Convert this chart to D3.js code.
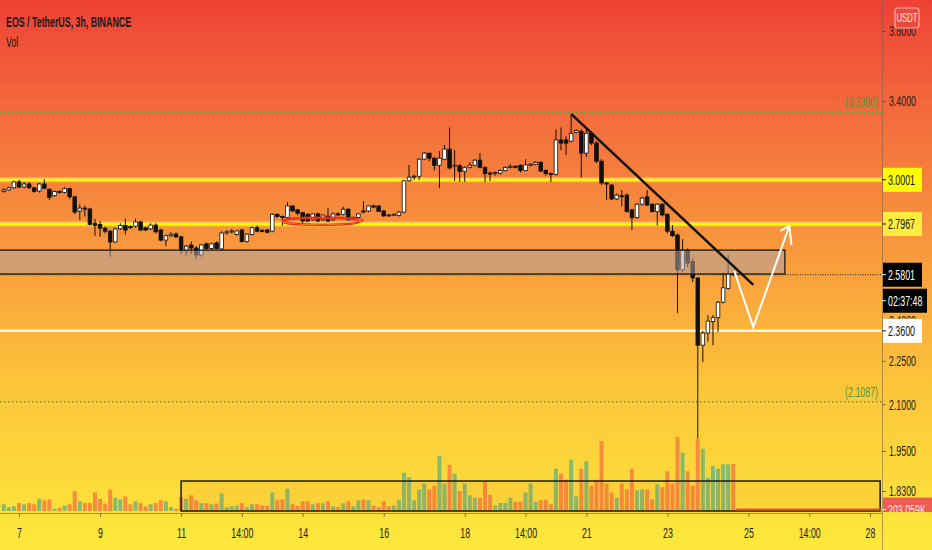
<!DOCTYPE html>
<html>
<head>
<meta charset="UTF-8">
<title>EOS / TetherUS, 3h, BINANCE</title>
<script src="https://cdn.jsdelivr.net/npm/d3@7"></script>
<style>
  body { margin: 0; overflow: hidden; }
  svg text { font-family: 'Liberation Sans', Arial, sans-serif; }
</style>
</head>
<body>
<svg id="chart" width="932" height="550"></svg>
<script>
// 3h candles, first one on the 6th at 15:00, as [open, high, low, close]
var startDay = 6.625;
var barStep = 0.125;
var candles = [
  [2.945,2.96,2.94,2.952],[2.952,2.968,2.948,2.962],[2.962,2.995,2.958,2.99],[2.99,3.0,2.96,2.966],
  [2.966,2.99,2.96,2.98],[2.98,2.99,2.958,2.962],[2.962,2.966,2.94,2.945],[2.947,2.985,2.94,2.98],
  [2.98,3.003,2.955,2.96],[2.955,2.96,2.905,2.918],[2.925,2.95,2.92,2.945],[2.945,2.952,2.935,2.94],
  [2.94,2.965,2.935,2.958],[2.958,2.962,2.91,2.92],[2.92,2.925,2.84,2.85],[2.855,2.886,2.815,2.868],
  [2.868,2.88,2.83,2.864],[2.864,2.87,2.79,2.795],[2.80,2.82,2.745,2.79],[2.795,2.81,2.74,2.778],
  [2.778,2.785,2.755,2.765],[2.765,2.77,2.654,2.718],[2.718,2.78,2.715,2.775],[2.775,2.80,2.77,2.79],
  [2.79,2.82,2.75,2.77],[2.785,2.79,2.775,2.78],[2.787,2.82,2.78,2.806],[2.806,2.81,2.765,2.77],
  [2.78,2.785,2.765,2.77],[2.775,2.80,2.77,2.792],[2.792,2.80,2.755,2.762],[2.77,2.775,2.72,2.726],
  [2.726,2.75,2.70,2.745],[2.745,2.76,2.74,2.752],[2.752,2.76,2.735,2.74],[2.74,2.745,2.665,2.68],
  [2.68,2.705,2.66,2.70],[2.705,2.72,2.666,2.692],[2.692,2.70,2.645,2.662],[2.662,2.71,2.655,2.705],
  [2.71,2.715,2.68,2.69],[2.69,2.715,2.685,2.71],[2.714,2.72,2.685,2.69],[2.688,2.765,2.68,2.757],
  [2.757,2.77,2.75,2.762],[2.762,2.775,2.755,2.766],[2.75,2.77,2.745,2.766],[2.77,2.775,2.715,2.72],
  [2.72,2.755,2.715,2.752],[2.75,2.785,2.745,2.78],[2.78,2.79,2.76,2.765],[2.768,2.775,2.76,2.765],
  [2.77,2.775,2.755,2.76],[2.765,2.845,2.76,2.84],[2.84,2.845,2.825,2.83],[2.83,2.835,2.79,2.826],
  [2.826,2.895,2.82,2.878],[2.878,2.88,2.85,2.855],[2.86,2.865,2.835,2.845],[2.848,2.85,2.80,2.81],
  [2.84,2.845,2.805,2.81],[2.815,2.845,2.81,2.842],[2.842,2.848,2.805,2.81],[2.815,2.84,2.81,2.837],
  [2.832,2.868,2.805,2.81],[2.815,2.848,2.81,2.842],[2.842,2.85,2.833,2.837],[2.84,2.875,2.835,2.863],
  [2.863,2.868,2.81,2.815],[2.82,2.83,2.815,2.826],[2.826,2.845,2.82,2.842],[2.855,2.9,2.845,2.85],
  [2.855,2.88,2.85,2.878],[2.878,2.885,2.868,2.873],[2.878,2.88,2.85,2.853],[2.855,2.86,2.828,2.833],
  [2.837,2.84,2.83,2.835],[2.837,2.845,2.832,2.84],[2.835,2.855,2.83,2.85],[2.85,3.0,2.845,2.995],
  [2.995,3.071,2.99,3.013],[3.013,3.025,3.0,3.017],[3.017,3.105,3.0,3.10],[3.10,3.135,3.095,3.13],
  [3.13,3.13,3.09,3.105],[3.105,3.11,3.045,3.07],[3.07,3.14,2.96,3.105],[3.10,3.17,3.095,3.15],
  [3.15,3.26,3.05,3.057],[3.068,3.145,2.995,3.071],[3.068,3.075,2.99,3.04],[3.04,3.065,2.99,3.06],
  [3.06,3.085,3.055,3.07],[3.07,3.10,3.065,3.095],[3.095,3.13,3.055,3.06],[3.06,3.065,2.99,3.03],
  [3.032,3.04,2.995,3.03],[3.03,3.04,3.02,3.035],[3.032,3.05,3.025,3.045],[3.045,3.065,3.04,3.06],
  [3.06,3.075,3.055,3.065],[3.065,3.07,3.055,3.06],[3.07,3.075,3.035,3.045],[3.045,3.10,3.04,3.072],
  [3.072,3.08,3.065,3.075],[3.075,3.09,3.07,3.085],[3.085,3.09,3.038,3.042],[3.045,3.05,3.02,3.03],
  [3.03,3.035,2.99,3.026],[3.026,3.25,3.02,3.196],[3.196,3.26,3.145,3.18],[3.196,3.215,3.12,3.18],
  [3.19,3.33,3.185,3.23],[3.235,3.25,3.23,3.245],[3.24,3.25,3.01,3.13],[3.13,3.25,3.11,3.23],
  [3.23,3.24,3.17,3.18],[3.18,3.19,3.08,3.09],[3.09,3.10,2.975,2.985],[2.985,2.99,2.905,2.98],
  [2.975,2.98,2.905,2.91],[2.91,2.935,2.905,2.928],[2.925,2.952,2.876,2.922],[2.928,2.935,2.848,2.852],
  [2.86,2.865,2.77,2.825],[2.825,2.89,2.82,2.886],[2.886,2.92,2.88,2.914],[2.92,2.952,2.878,2.882],
  [2.886,2.89,2.848,2.852],[2.852,2.89,2.79,2.886],[2.886,2.89,2.83,2.837],[2.84,2.845,2.755,2.765],
  [2.765,2.792,2.74,2.745],[2.748,2.755,2.428,2.60],[2.60,2.73,2.59,2.683],[2.683,2.69,2.61,2.628],
  [2.635,2.65,2.55,2.567],[2.567,2.57,1.99,2.307],[2.307,2.36,2.246,2.352],[2.352,2.42,2.32,2.397],
  [2.395,2.42,2.307,2.41],[2.41,2.475,2.355,2.47],[2.47,2.59,2.465,2.527],[2.525,2.662,2.52,2.585],
  [2.585,2.59,2.575,2.5801]
];

// volume per candle, thousands
var volumes = [
  29,17,20,34,29,34,29,53,46,50, 10,14,23,29,85,42,34,34,80,52,
  32,92,57,49,63,29,42,34,20,29, 34,46,42,17,10,60,53,67,46,34,
  34,29,32,75,17,20,23,34,17,29, 29,24,23,80,46,50,96,29,23,42,
  42,29,34,34,42,20,17,34,42,20, 46,50,46,23,17,42,20,24,46,165,
  146,46,93,118,93,108,237,118,199,161, 86,118,67,57,57,129,69,24,34,34,
  57,40,40,80,118,40,46,49,29,182, 161,135,221,63,182,215,109,135,301,118,
  80,57,118,93,182,89,93,92,50,115, 103,171,118,318,251,171,109,311,268,143,
  194,182,201,201,203
];

var xTicks = [7, 9, 11, 12.5, 14, 16, 18, 19.5, 21, 23, 25, 26.5, 28];
var xLabels = ['7', '9', '11', '14:00', '14', '16', '18', '14:00', '21', '23', '25', '14:00', '28'];
var yTicks = [3.8, 3.4, 2.4, 2.25, 2.1, 1.95, 1.83];

var yellowLevels = [3.0001, 2.7967];
var whiteLevel = 2.36;
var fibLevels = [3.339, 2.1087];
var lastPrice = 2.5801;
var countdown = '02:37:48';
var lastVolume = '203.059K';
var zone = {from: 6.0, to: 25.9, top: 2.683, bottom: 2.583};
var volBox = {from: 11, to: 28.25, top: 129};
var trend = [[20.63, 3.33], [25.12, 2.539]];
var projection = [[24.65, 2.596], [25.12, 2.374], [26.01, 2.788]];
var arrowWings = [[25.79, 2.766], [26.06, 2.705]];

var W = 932, H = 550, axisX = 882, timeY = 513;
var svg = d3.select('#chart');

var x = d3.scaleLinear().domain([7, 28]).range([19, 870]);
var y = d3.scaleLog().domain([3.4, 1.83]).range([101, 491]);
var vy = d3.scaleLinear().domain([0, 340]).range([511, 432]);
function t(i) { return startDay + i * barStep; }

// background gradient
var defs = svg.append('defs');
var grad = defs.append('linearGradient').attr('id', 'bg').attr('x1', 0).attr('y1', 0).attr('x2', 0).attr('y2', 1);
[[0, '#ee4135'], [0.2, '#f36a3c'], [0.45, '#f8983d'], [0.7, '#fcc53a'], [1, '#fde93b']].forEach(function (s) {
  grad.append('stop').attr('offset', s[0]).attr('stop-color', s[1]);
});
defs.append('clipPath').attr('id', 'plot').append('rect').attr('x', 0).attr('y', 0).attr('width', axisX).attr('height', timeY);
defs.append('clipPath').attr('id', 'scale').append('rect').attr('x', axisX).attr('y', 0).attr('width', W - axisX).attr('height', timeY - 1);
svg.append('rect').attr('width', W).attr('height', H).attr('fill', 'url(#bg)');

var plot = svg.append('g').attr('clip-path', 'url(#plot)');

// horizontal levels
plot.selectAll('line.fib').data(fibLevels).join('line')
  .attr('x1', 0).attr('x2', axisX).attr('y1', d => y(d)).attr('y2', d => y(d))
  .attr('stroke', '#5f9e3a').attr('stroke-width', 1.5).attr('stroke-dasharray', '1.5,2.5');
plot.selectAll('line.yglow').data(yellowLevels).join('line')
  .attr('x1', 0).attr('x2', axisX).attr('y1', d => y(d)).attr('y2', d => y(d))
  .attr('stroke', '#fff06a').attr('stroke-opacity', 0.55).attr('stroke-width', 5);
plot.selectAll('line.ycore').data(yellowLevels).join('line')
  .attr('x1', 0).attr('x2', axisX).attr('y1', d => y(d)).attr('y2', d => y(d))
  .attr('stroke', '#ffff00').attr('stroke-width', 2);
plot.append('line').attr('x1', 0).attr('x2', axisX).attr('y1', y(whiteLevel)).attr('y2', y(whiteLevel))
  .attr('stroke', '#fff8e8').attr('stroke-width', 2.5);
plot.append('line').attr('x1', 0).attr('x2', axisX).attr('y1', y(lastPrice)).attr('y2', y(lastPrice))
  .attr('stroke', '#222').attr('stroke-width', 1).attr('stroke-dasharray', '1,1.5');

// volume
plot.selectAll('rect.vol').data(volumes).join('rect')
  .attr('x', (d, i) => x(t(i)) - 2).attr('width', 4)
  .attr('y', d => vy(d)).attr('height', d => vy(0) - vy(d))
  .attr('fill', (d, i) => candles[i][3] >= candles[i][0] ? '#79b873' : '#f5843f')
  .attr('fill-opacity', 0.9);
plot.append('rect').attr('x', x(volBox.from)).attr('y', vy(volBox.top))
  .attr('width', x(volBox.to) - x(volBox.from)).attr('height', vy(0) - vy(volBox.top))
  .attr('fill', 'rgba(240,110,40,0.10)').attr('stroke', '#1a1a1a').attr('stroke-width', 1.5);
plot.append('line').attr('x1', x(t(candles.length - 1)) + 3).attr('x2', axisX)
  .attr('y1', vy(6)).attr('y2', vy(6)).attr('stroke', '#e0552e').attr('stroke-width', 2);

// candles
var cg = plot.append('g');
cg.selectAll('line').data(candles).join('line')
  .attr('x1', (d, i) => x(t(i))).attr('x2', (d, i) => x(t(i)))
  .attr('y1', d => y(d[1])).attr('y2', d => y(d[2]))
  .attr('stroke', '#111').attr('stroke-width', 1);
cg.selectAll('rect').data(candles).join('rect')
  .attr('x', (d, i) => x(t(i)) - 1.8).attr('width', 3.6)
  .attr('y', d => y(Math.max(d[0], d[3])))
  .attr('height', d => Math.max(1, Math.abs(y(d[0]) - y(d[3]))))
  .attr('fill', d => d[3] >= d[0] ? '#ffffff' : '#111111')
  .attr('stroke', '#111').attr('stroke-width', 0.8);

// support zone
plot.append('rect').attr('x', x(zone.from)).attr('y', y(zone.top))
  .attr('width', x(zone.to) - x(zone.from)).attr('height', y(zone.bottom) - y(zone.top))
  .attr('fill', 'rgba(176,160,158,0.55)').attr('stroke', '#1a1a1a').attr('stroke-width', 1.3);

// red marking under the range
[[14.5, 2.812, 1.0], [14.45, 2.806, 0.95]].forEach(function (e) {
  plot.append('ellipse').attr('cx', x(e[0])).attr('cy', y(e[1]))
    .attr('rx', x(e[0] + e[2]) - x(e[0])).attr('ry', 3.5)
    .attr('fill', 'none').attr('stroke', '#e8321e').attr('stroke-width', 1.2);
});

// trend line and projection
var line = d3.line().x(d => x(d[0])).y(d => y(d[1]));
plot.append('path').attr('d', line(trend)).attr('stroke', '#111').attr('stroke-width', 2.5).attr('fill', 'none');
plot.append('path').attr('d', line(projection)).attr('stroke', '#fff').attr('stroke-width', 2).attr('fill', 'none');
var tip = projection[projection.length - 1];
arrowWings.forEach(function (w) {
  plot.append('path').attr('d', line([w, tip])).attr('stroke', '#fff').attr('stroke-width', 2).attr('fill', 'none');
});

// fib level labels
plot.selectAll('text.fib').data(fibLevels).join('text')
  .attr('x', 878).attr('y', d => y(d) - 5).attr('text-anchor', 'end')
  .attr('font-size', 15).attr('fill', '#4f9a3a').text(d => '(' + d.toFixed(4) + ')');

// axes
var xAxis = d3.axisBottom(x).tickValues(xTicks).tickFormat((d, i) => xLabels[i]).tickSize(4).tickPadding(10);
var gx = svg.append('g').attr('transform', 'translate(0,' + timeY + ')').call(xAxis);
gx.select('.domain').attr('d', 'M0,0.5H' + axisX).attr('stroke', 'rgba(110,90,70,0.6)');
gx.selectAll('.tick line').attr('stroke', 'rgba(90,70,60,0.7)');
gx.selectAll('text').attr('font-size', 15).attr('fill', '#1e1e1e').attr('font-family', null);

var yAxis = d3.axisRight(y).tickValues(yTicks).tickFormat(d3.format('.4f')).tickSize(4).tickPadding(3);
var gy = svg.append('g').attr('transform', 'translate(' + axisX + ',0)').call(yAxis);
gy.select('.domain').remove();
gy.selectAll('.tick line').attr('stroke', 'rgba(90,70,60,0.7)');
gy.selectAll('text').attr('font-size', 15).attr('fill', '#1e1e1e').attr('font-family', null);
svg.append('line').attr('x1', axisX + 0.5).attr('x2', axisX + 0.5).attr('y1', 0).attr('y2', H)
  .attr('stroke', 'rgba(120,95,75,0.55)');

// price labels on the scale
var scaleG = svg.append('g').attr('clip-path', 'url(#scale)');
function priceLabel(cy, txt, bg, fg, w) {
  scaleG.append('rect').attr('x', axisX + 1).attr('y', cy - 12).attr('width', w).attr('height', 24).attr('fill', bg);
  scaleG.append('line').attr('x1', axisX).attr('x2', axisX + 4).attr('y1', cy).attr('y2', cy).attr('stroke', fg);
  scaleG.append('text').attr('x', axisX + 6).attr('y', cy + 5.5).attr('font-size', 15).attr('fill', fg).text(txt);
}
priceLabel(y(yellowLevels[0]), yellowLevels[0].toFixed(4), '#ffff00', '#111', 39);
priceLabel(y(yellowLevels[1]), yellowLevels[1].toFixed(4), '#ffec3d', '#111', 39);
priceLabel(y(lastPrice), lastPrice.toFixed(4), '#000', '#fff', 39);
priceLabel(y(lastPrice) + 26, countdown, '#000', '#fff', 44);
priceLabel(y(whiteLevel), whiteLevel.toFixed(4), '#fff', '#111', 39);
priceLabel(vy(6), lastVolume, '#ee5d55', '#ffe4e4', 50);

// currency badge
svg.append('rect').attr('x', 895).attr('y', 8).attr('width', 24).attr('height', 20).attr('rx', 3)
  .attr('fill', '#ea4a3c').attr('stroke', '#f7b0a8').attr('stroke-width', 1.2);
svg.append('text').attr('x', 907).attr('y', 22.5).attr('text-anchor', 'middle')
  .attr('font-size', 13).attr('fill', '#ffe9e6').text('USDT');

// title
svg.append('text').attr('x', 6).attr('y', 27).attr('font-size', 15).attr('font-weight', 'bold')
  .attr('fill', '#1a1a1a').text('EOS / TetherUS, 3h, BINANCE');
svg.append('text').attr('x', 6).attr('y', 47).attr('font-size', 15).attr('fill', '#1a1a1a').text('Vol');

// the screenshot uses a narrow face: squeeze every text horizontally around its anchor
svg.selectAll('text').each(function () {
  var ax = +(this.getAttribute('x') || 0);
  d3.select(this).attr('transform', 'translate(' + ax + ',0) scale(0.59,1) translate(' + (-ax) + ',0)');
});
</script>
</body>
</html>
